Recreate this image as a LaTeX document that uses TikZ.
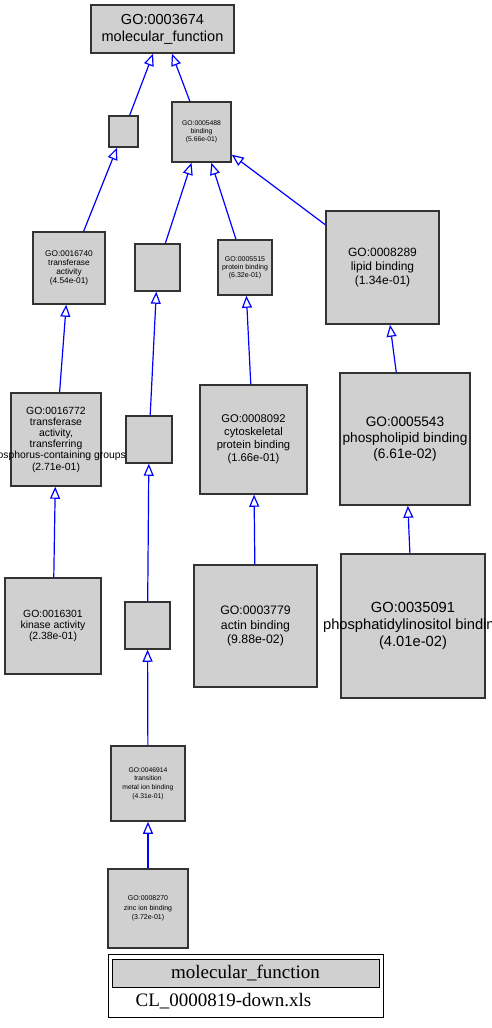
\documentclass[tikz,border=0pt]{standalone}
\usepackage{fontspec}
\setmainfont{Liberation Sans}
\newfontfamily\legendfont{Liberation Serif}
\usetikzlibrary{arrows.meta}
\definecolor{boxgray}{RGB}{208,208,208}
\definecolor{boxline}{RGB}{51,51,51}
\definecolor{edgeblue}{RGB}{0,0,255}
\newcommand{\fs}[2]{\fontsize{#1}{#2}\selectfont}
% a GO term: box (named) plus its centred label (may run past the box)
\newcommand{\gonode}[7]{%
  \node[gobox, minimum width=#4pt, minimum height=#5pt] (#1) at (#2,#3) {};
  \node[golabel, font=#6] (#1-t) at (#1) {#7};}
\tikzset{
  gobox/.style={draw=boxline, fill=boxgray, line width=1.5pt, inner sep=0pt, rectangle},
  golabel/.style={align=center, inner sep=0pt, text=black},
  isa/.style={draw=edgeblue, line width=1.2pt, -{Triangle[open, length=12pt, width=10pt]}},
}
\begin{document}
\begin{tikzpicture}[x=1pt, y=-1pt]
\useasboundingbox (0,0) rectangle (491,1028);

\gonode{n3674}{162.5}{29}{143}{48}{\fs{14.5}{17}}{GO:0003674\\molecular\_function}
\gonode{nA}{123.5}{131.5}{29}{31}{\fs{7}{8}}{}
\gonode{n5488}{201.5}{132}{59}{60}{\fs{6.8}{8}}{GO:0005488\\binding\\(5.66e-01)}
\gonode{n16740}{69}{268}{72}{72}{\fs{8.3}{8.7}}{GO:0016740\\transferase\\activity\\(4.54e-01)}
\gonode{nB}{157.5}{267.5}{45}{47}{\fs{7}{8}}{}
\gonode{n5515}{245}{267.5}{54}{55}{\fs{7}{8}}{GO:0005515\\protein binding\\(6.32e-01)}
\gonode{n8289}{382.5}{267.5}{113}{113}{\fs{12}{14}}{GO:0008289\\lipid binding\\(1.34e-01)}
\gonode{n16772}{56}{439.5}{90}{93}{\fs{10.4}{11.2}}{GO:0016772\\transferase\\activity,\\transferring\\phosphorus-containing groups\\(2.71e-01)}
\gonode{nC}{149}{439.5}{46}{47}{\fs{7}{8}}{}
\gonode{n8092}{253.5}{439.5}{107}{109}{\fs{11.2}{13}}{GO:0008092\\cytoskeletal\\protein binding\\(1.66e-01)}
\gonode{n5543}{405}{439}{130}{132}{\fs{13.7}{16.3}}{GO:0005543\\phospholipid binding\\(6.61e-02)}
\gonode{n16301}{53}{626}{96}{96}{\fs{10.4}{11.2}}{GO:0016301\\kinase activity\\(2.38e-01)}
\gonode{nD}{147.5}{625.5}{45}{47}{\fs{7}{8}}{}
\gonode{n3779}{255.5}{626}{123}{122}{\fs{12.3}{14.7}}{GO:0003779\\actin binding\\(9.88e-02)}
\gonode{n35091}{413}{626}{144}{144}{\fs{14.7}{17}}{GO:0035091\\phosphatidylinositol binding\\(4.01e-02)}
\gonode{n46914}{148}{783.5}{74}{75}{\fs{6.75}{8.6}}{GO:0046914\\transition\\metal ion binding\\(4.31e-01)}
\gonode{n8270}{148}{908.5}{80}{79}{\fs{7}{9.3}}{GO:0008270\\zinc ion binding\\(3.72e-01)}

% is-a relations, child to parent
\draw[isa] (nA) -- (n3674);
\draw[isa] (n5488) -- (n3674);
\draw[isa] (n16740) -- (nA);
\draw[isa] (nB) -- (n5488);
\draw[isa] (n5515) -- (n5488);
\draw[isa] (n8289) -- (n5488);
\draw[isa] (n16772) -- (n16740);
\draw[isa] (nC) -- (nB);
\draw[isa] (n8092) -- (n5515);
\draw[isa] (n5543) -- (n8289);
\draw[isa] (n16301) -- (n16772);
\draw[isa] (nD) -- (nC);
\draw[isa] (n3779) -- (n8092);
\draw[isa] (n35091) -- (n5543);
\draw[isa] (n46914) -- (nD);
\draw[isa] (n8270) -- (n46914);

% legend
\node[draw=black, line width=1pt, minimum width=275pt, minimum height=63pt, inner sep=0pt] (legend) at (245.5,985.5) {};
\node[draw=black, fill=boxgray, line width=1pt, minimum width=267pt, minimum height=28pt, inner sep=0pt,
      font=\legendfont\fs{19}{21}] (legendhead) at (245.5,973) {molecular\_function};
\node[font=\legendfont\fs{19}{21}, inner sep=0pt] (legendfile) at (223.5,1001) {CL\_0000819-down.xls};
\end{tikzpicture}
\end{document}
